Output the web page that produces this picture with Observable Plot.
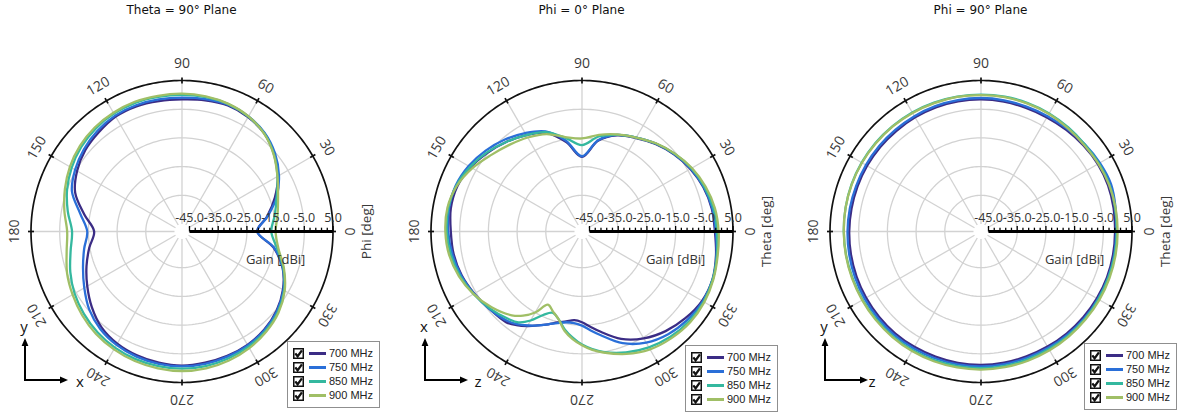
<!DOCTYPE html>
<html>
<head>
<meta charset="utf-8">
<script src="https://cdn.jsdelivr.net/npm/d3@7"></script>
<script src="https://cdn.jsdelivr.net/npm/@observablehq/plot@0.6"></script>
<style>
html,body{margin:0;padding:0;background:#fff;}
body{width:1189px;height:413px;position:relative;overflow:hidden;}
.panel{position:absolute;top:0;width:400px;height:413px;}
.panel svg.plotsvg{position:absolute;left:0;top:0;}
.title{position:absolute;top:3px;font-family:"DejaVu Sans",sans-serif;font-size:12px;line-height:14px;color:#111;white-space:nowrap;transform:translateX(-50%);}
.legend{position:absolute;width:93px;height:67px;box-sizing:border-box;border:1.5px solid #8f8f8f;background:#fff;}
.row{position:absolute;left:0;height:14px;width:90px;}
.row svg{position:absolute;left:5px;top:1.5px;}
.swatch{position:absolute;left:21px;top:6px;width:17px;height:2.5px;}
.lab{position:absolute;left:41px;top:0;font-family:"Liberation Sans",Arial,sans-serif;font-size:11px;line-height:14px;color:#222;white-space:nowrap;}
.icon{position:absolute;left:0;top:0;pointer-events:none;}
</style>
</head>
<body>
<script>
// ---------------- data ----------------
const frequencies = ["700 MHz", "750 MHz", "850 MHz", "900 MHz"];
const seriesColors = ["#3b2c85", "#2a6fd8", "#34b89f", "#a0bf66"];
const angleTicks = [0, 30, 60, 90, 120, 150, 180, 210, 240, 270, 300, 330];
const gainTicks = [-45, -35, -25, -15, -5, 5];
const gridLevels = [-35, -25, -15, -5];

// Theta = 90 deg plane (angle = Phi)
const anglesTheta90 = [0,10,20,30,40,50,60,70,80,90,100,110,120,130,140,150,160,170,180,190,200,210,220,230,240,250,260,270,280,290,300,310,320,330,340,350];
const theta90_700 = [-21.4,-17.5,-13.2,-9.0,-5.6,-3.0,-1.6,-0.9,-1.2,-1.6,-1.5,-1.2,-1.4,-2.5,-3.6,-5.4,-8.0,-13.0,-17.0,-14.8,-12.2,-9.5,-6.6,-4.0,-2.5,-1.7,-1.2,-0.9,-1.2,-1.5,-2.0,-3.0,-4.6,-7.0,-10.3,-15.2];
const theta90_750 = [-21.4,-17.3,-12.5,-8.6,-5.3,-2.8,-1.3,-0.6,-0.8,-1.0,-0.9,-0.8,-1.0,-1.8,-3.0,-4.6,-6.8,-11.6,-14.6,-13.0,-10.9,-8.3,-5.4,-3.3,-2.0,-1.2,-0.8,-0.6,-0.8,-1.2,-1.8,-2.8,-4.4,-6.8,-10.2,-15.0];
const theta90_850 = [-16.5,-14.8,-12.5,-9.2,-5.8,-3.0,-1.4,-0.4,-0.1,0.0,0.0,0.1,-0.2,-0.8,-1.8,-3.2,-5.0,-7.2,-9.3,-8.2,-6.2,-4.4,-3.0,-1.8,-0.9,-0.3,0.0,0.2,0.0,-0.5,-1.3,-2.4,-4.0,-6.5,-10.0,-14.0];
const theta90_900 = [-15.0,-13.8,-12.0,-9.2,-5.9,-3.1,-1.3,-0.3,0.2,0.4,0.4,0.5,0.2,-0.3,-1.2,-2.5,-4.2,-6.0,-7.6,-6.8,-5.0,-3.6,-2.2,-1.0,-0.2,0.4,0.8,1.0,0.8,0.2,-0.7,-2.0,-3.7,-6.3,-9.8,-13.5];

// Phi = 0 deg plane (angle = Theta)
const anglesPhi0 = [0,10,20,30,40,50,60,70,80,90,100,110,120,130,140,150,160,170,180,190,200,210,220,230,235,240,245,250,255,260,265,270,275,280,290,300,310,320,330,340,350];
const phi0_700 = [-1.3,-1.7,-2.6,-4.0,-5.8,-7.8,-10.0,-12.0,-15.5,-21.6,-16.0,-11.0,-8.8,-6.8,-4.8,-2.8,-1.4,-1.2,-1.9,-2.2,-3.0,-4.3,-5.6,-6.4,-7.8,-9.6,-11.5,-13.2,-14.8,-15.8,-16.6,-16.0,-14.3,-12.3,-7.8,-4.6,-2.3,-0.6,0.7,0.8,-0.2];
const phi0_750 = [-1.0,-1.5,-2.4,-3.8,-5.6,-7.6,-9.8,-11.8,-15.3,-21.4,-15.5,-10.5,-8.0,-5.8,-3.8,-2.0,-0.8,-0.6,-1.0,-1.8,-2.8,-4.2,-5.6,-7.0,-8.2,-9.8,-11.5,-13.2,-14.6,-15.5,-15.6,-14.8,-13.0,-11.0,-6.2,-2.9,-0.9,0.3,1.0,0.9,0.0];
const phi0_850 = [-0.6,-1.1,-2.2,-3.6,-5.5,-7.6,-9.8,-11.8,-14.0,-17.5,-14.5,-10.8,-8.8,-6.8,-4.6,-2.6,-1.0,-0.3,-0.5,-1.2,-2.4,-4.0,-5.8,-7.8,-9.0,-11.8,-15.5,-17.5,-16.0,-13.0,-10.5,-8.2,-6.5,-5.0,-2.8,-1.0,0.3,1.1,1.3,0.9,0.1];
const phi0_900 = [0.0,-0.6,-1.8,-3.4,-5.4,-7.5,-9.8,-11.6,-13.4,-15.2,-14.2,-11.5,-9.8,-8.2,-6.2,-3.5,-1.2,0.0,0.0,-0.6,-2.0,-4.0,-6.5,-9.5,-11.8,-15.0,-19.5,-18.0,-16.0,-12.5,-10.0,-8.0,-6.2,-4.8,-2.2,-0.2,0.9,1.6,1.6,1.1,0.4];

// Phi = 90 deg plane (angle = Theta)
const anglesPhi90 = [0,10,20,30,40,50,60,70,80,90,100,110,120,130,140,150,160,170,180,190,200,210,220,230,240,250,260,270,280,290,300,310,320,330,340,350];
const phi90_700 = [-0.9,-0.7,-0.5,-0.6,-1.0,-1.4,-1.7,-1.8,-1.7,-1.6,-1.6,-1.6,-1.7,-1.8,-1.8,-1.8,-1.8,-1.8,-1.7,-1.6,-1.5,-1.4,-1.3,-1.2,-1.2,-1.2,-1.1,-1.1,-1.2,-1.3,-1.3,-1.2,-1.1,-1.0,-0.9,-0.9];
const phi90_750 = [-0.5,0.0,0.6,0.2,-0.4,-0.9,-1.2,-1.3,-1.2,-1.1,-1.1,-1.1,-1.2,-1.3,-1.3,-1.3,-1.3,-1.2,-1.1,-1.0,-0.9,-0.8,-0.7,-0.6,-0.6,-0.6,-0.6,-0.6,-0.7,-0.8,-0.8,-0.7,-0.6,-0.6,-0.5,-0.5];
const phi90_850 = [-0.3,-0.2,0.0,-0.2,-0.4,-0.3,-0.1,0.0,0.1,0.1,0.1,0.2,0.3,0.3,0.4,0.4,0.4,0.3,0.2,0.1,0.0,0.0,0.0,0.1,0.1,0.1,0.0,0.0,-0.1,-0.2,-0.3,-0.3,-0.3,-0.4,-0.4,-0.3];
const phi90_900 = [0.0,0.0,-0.1,-0.4,-0.7,-0.6,-0.3,-0.2,-0.1,-0.1,0.0,0.0,0.1,0.2,0.2,0.3,0.3,0.3,0.2,0.2,0.2,0.2,0.3,0.4,0.5,0.5,0.5,0.5,0.4,0.3,0.2,0.1,0.0,0.0,0.0,0.0];

// ---------------- layout / helpers ----------------
const W = 400, H = 413, CY = 231;
const K = 2.87;                 // pixels per dB
const GAIN_MIN = -45, GAIN_MAX = 5;
const INNER = 7.5 / K;          // empty hole in the middle
const R = v => v - GAIN_MIN + INNER;
const DEG = Math.PI / 180;
const px = (a, r) => r * Math.cos(a * DEG);
const py = (a, r) => r * Math.sin(a * DEG);

const panels = [
  {left: 0, cx: 181.5, title: "Theta = 90° Plane", axisLabel: "Phi [deg]", angles: anglesTheta90,
   gains: [theta90_700, theta90_750, theta90_850, theta90_900], up: "y", right: "x", rx: 80,
   legend: [287, 341]},
  {left: 400, cx: 181.5, title: "Phi = 0° Plane", axisLabel: "Theta [deg]", angles: anglesPhi0,
   gains: [phi0_700, phi0_750, phi0_850, phi0_900], up: "x", right: "z", rx: 78,
   legend: [285, 345]},
  {left: 800, cx: 180.5, title: "Phi = 90° Plane", axisLabel: "Theta [deg]", angles: anglesPhi90,
   gains: [phi90_700, phi90_750, phi90_850, phi90_900], up: "y", right: "z", rx: 72,
   legend: [284, 343]}
];

const checkSVG = '<svg width="11" height="11" viewBox="0 0 11 11"><rect x="0.75" y="0.75" width="9.5" height="9.5" fill="#fff" stroke="#111" stroke-width="1.5"/><path d="M2.3 5.4 L4.6 8.3 L8.9 2.3" fill="none" stroke="#111" stroke-width="2.3"/></svg>';

function drawPanel(cfg) {
  const div = document.createElement("div");
  div.className = "panel";
  div.style.left = cfg.left + "px";
  document.body.appendChild(div);

  const curveData = [];
  frequencies.forEach((f, i) => cfg.angles.forEach((a, j) => {
    const r = R(cfg.gains[i][j]);
    curveData.push({freq: f, x: px(a, r), y: py(a, r)});
  }));
  const gridData = [];
  gridLevels.forEach(l => { for (let a = 0; a <= 360; a += 2) gridData.push({level: l, x: px(a, R(l)), y: py(a, R(l))}); });
  const rimData = [];
  for (let a = 0; a <= 360; a += 1) rimData.push({x: px(a, R(GAIN_MAX)), y: py(a, R(GAIN_MAX))});
  const axisTicks = [];
  for (let v = GAIN_MIN; v <= GAIN_MAX; v += 2) axisTicks.push(v);
  const tickLen = 3 / K;
  const LR = 167.5 / K;

  const svg = Plot.plot({
    width: W, height: H,
    marginTop: 0, marginRight: 0, marginBottom: 0, marginLeft: 0,
    x: {domain: [-cfg.cx / K, (W - cfg.cx) / K], axis: null},
    y: {domain: [-(H - CY) / K, CY / K], axis: null},
    color: {domain: frequencies, range: seriesColors},
    style: {fontFamily: "'Open Sans', sans-serif", background: "transparent", overflow: "visible"},
    marks: [
      Plot.line(gridData, {x: "x", y: "y", z: "level", stroke: "#d2d2d2", strokeWidth: 1.3}),
      Plot.link(angleTicks, {x1: a => px(a, R(GAIN_MIN)), y1: a => py(a, R(GAIN_MIN)),
                             x2: a => px(a, R(GAIN_MAX)), y2: a => py(a, R(GAIN_MAX)),
                             stroke: "#d2d2d2", strokeWidth: 1.3}),
      Plot.line(curveData, {x: "x", y: "y", z: "freq", stroke: "freq", strokeWidth: 2.3, curve: "catmull-rom-closed"}),
      Plot.line(rimData, {x: "x", y: "y", stroke: "#111", strokeWidth: 1.7}),
      Plot.link(angleTicks, {x1: a => px(a, R(GAIN_MAX) - tickLen), y1: a => py(a, R(GAIN_MAX) - tickLen),
                             x2: a => px(a, R(GAIN_MAX) + tickLen), y2: a => py(a, R(GAIN_MAX) + tickLen),
                             stroke: "#111", strokeWidth: 1.7}),
      Plot.link([GAIN_MIN], {x1: v => R(v), y1: () => 0, x2: () => R(GAIN_MAX), y2: () => 0, stroke: "#000", strokeWidth: 3}),
      Plot.link(axisTicks, {x1: v => R(v), x2: v => R(v), y1: () => 0,
                            y2: v => ((v - GAIN_MIN) % 10 === 0 ? 5.5 : 3.8) / K,
                            stroke: "#000", strokeWidth: 1.3}),
      Plot.text(gainTicks, {x: v => R(v), y: () => 0, dy: -14, text: v => v.toFixed(1), fontSize: 12.5, fill: "#333"}),
      Plot.text(["Gain [dBi]"], {x: () => R(-15), y: () => 0, dy: 28, text: d => d, fontSize: 13, fill: "#333"}),
      Plot.text(angleTicks, {x: a => px(a, LR), y: a => py(a, LR), text: a => String(a), rotate: a => 90 - a,
                             fontSize: 14, fill: "#3a3a3a"}),
      Plot.text([cfg.axisLabel], {x: () => 185 / K, y: () => 0, rotate: -90, text: d => d, fontSize: 13.5, fill: "#3a3a3a"})
    ]
  });
  svg.classList.add("plotsvg");
  div.appendChild(svg);

  // title
  const t = document.createElement("div");
  t.className = "title";
  t.style.left = cfg.cx + "px";
  t.textContent = cfg.title;
  div.appendChild(t);

  // coordinate icon
  const icon = document.createElementNS("http://www.w3.org/2000/svg", "svg");
  icon.setAttribute("class", "icon");
  icon.setAttribute("width", W); icon.setAttribute("height", H);
  icon.innerHTML =
    '<line x1="25" y1="380" x2="25" y2="345" stroke="#000" stroke-width="2"/>' +
    '<path d="M25 338 L21.6 346 L28.4 346 Z" fill="#000"/>' +
    '<line x1="24" y1="380" x2="60" y2="380" stroke="#000" stroke-width="2"/>' +
    '<path d="M68 380 L60 376.6 L60 383.4 Z" fill="#000"/>' +
    '<text x="24" y="326" text-anchor="middle" dominant-baseline="central" font-family="Open Sans, sans-serif" font-size="15" fill="#111">' + cfg.up + '</text>' +
    '<text x="' + cfg.rx + '" y="381" text-anchor="middle" dominant-baseline="central" font-family="Open Sans, sans-serif" font-size="15" fill="#111">' + cfg.right + '</text>';
  div.appendChild(icon);

  // legend
  const lg = document.createElement("div");
  lg.className = "legend";
  lg.style.left = cfg.legend[0] + "px";
  lg.style.top = cfg.legend[1] + "px";
  frequencies.forEach((f, i) => {
    const row = document.createElement("div");
    row.className = "row";
    row.style.top = (4 + i * 14) + "px";
    row.innerHTML = checkSVG + '<div class="swatch" style="background:' + seriesColors[i] + '"></div><div class="lab">' + f + '</div>';
    lg.appendChild(row);
  });
  div.appendChild(lg);
}

panels.forEach(drawPanel);
</script>
</body>
</html>
